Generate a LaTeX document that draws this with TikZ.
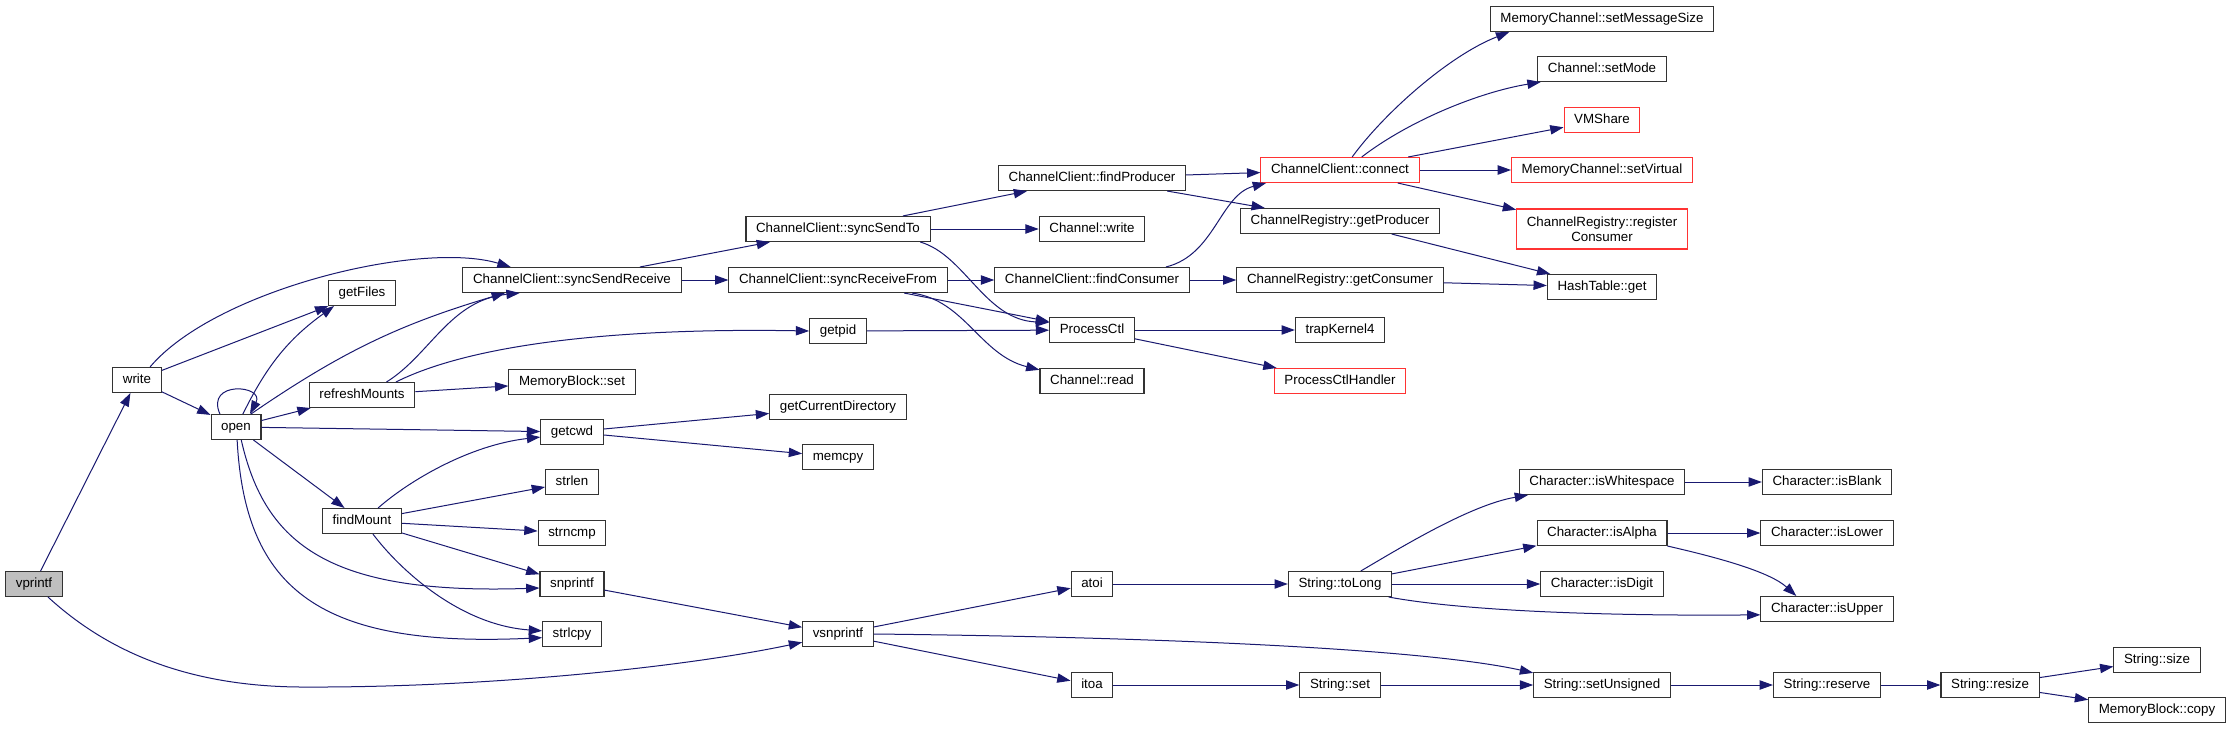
\documentclass[tikz,border=0pt]{standalone}
\usepackage{fontspec}
\setmainfont{Liberation Sans}
\usetikzlibrary{positioning, arrows.meta}
\definecolor{midnight}{HTML}{191970}
\definecolor{cutred}{HTML}{FF3333}

\begin{document}
\begin{tikzpicture}[x=0.75pt, y=-0.75pt,
    box/.style={draw=black!80, fill=white, line width=0.8pt, font=\fontsize{10}{11}\selectfont, inner xsep=7.6pt, inner ysep=2.5pt},
    fn/.style={box, inner ysep=0pt, minimum height=18.75pt, text height=7.3pt, text depth=2.1pt},
    truncated/.style={fn, draw=cutred},
    caller/.style={fn, fill=black!25},
    call/.style={midnight, line width=0.75pt, -{Triangle[length=10pt, width=7pt]}}]
    \path[use as bounding box, fill=white] (0,0) rectangle (2232,729);

    \node[caller] (vprintf) at (34,584) {vprintf};
    \node[fn] (write) at (137,380) {write};
    \node[fn] (open) at (236,427) {open};
    \node[fn] (getFiles) at (362,293) {getFiles};
    \node[fn] (refreshMounts) at (362,395) {refreshMounts};
    \node[fn] (findMount) at (362,521) {findMount};
    \node[fn] (syncSendReceive) at (572,280) {ChannelClient::syncSendReceive};
    \node[fn] (blockSet) at (572,382) {MemoryBlock::set};
    \node[fn] (getcwd) at (572,432) {getcwd};
    \node[fn] (strlen) at (572,482) {strlen};
    \node[fn] (strncmp) at (572,533) {strncmp};
    \node[fn] (snprintf) at (572,584) {snprintf};
    \node[fn] (strlcpy) at (572,634) {strlcpy};
    \node[fn] (syncSendTo) at (838,229) {ChannelClient::syncSendTo};
    \node[fn] (syncReceiveFrom) at (838,280) {ChannelClient::syncReceiveFrom};
    \node[fn] (getpid) at (838,331) {getpid};
    \node[fn] (getCurrentDirectory) at (838,407) {getCurrentDirectory};
    \node[fn] (memcpy) at (838,457) {memcpy};
    \node[fn] (vsnprintf) at (838,634) {vsnprintf};
    \node[fn] (findProducer) at (1092,178) {ChannelClient::findProducer};
    \node[fn] (channelWrite) at (1092,229) {Channel::write};
    \node[fn] (findConsumer) at (1092,280) {ChannelClient::findConsumer};
    \node[fn] (ProcessCtl) at (1092,330) {ProcessCtl};
    \node[fn] (channelRead) at (1092,381) {Channel::read};
    \node[fn] (atoi) at (1092,584) {atoi};
    \node[fn] (itoa) at (1092,685) {itoa};
    \node[truncated] (connect) at (1340,170) {ChannelClient::connect};
    \node[fn] (getProducer) at (1340,221) {ChannelRegistry::getProducer};
    \node[fn] (getConsumer) at (1340,280) {ChannelRegistry::getConsumer};
    \node[fn] (trapKernel4) at (1340,330) {trapKernel4};
    \node[truncated] (ProcessCtlHandler) at (1340,381) {ProcessCtlHandler};
    \node[fn] (toLong) at (1340,584) {String::toLong};
    \node[fn] (stringSet) at (1340,685) {String::set};
    \node[fn] (setMessageSize) at (1602,19) {MemoryChannel::setMessageSize};
    \node[fn] (setMode) at (1602,69) {Channel::setMode};
    \node[truncated] (VMShare) at (1602,120) {VMShare};
    \node[truncated] (setVirtual) at (1602,170) {MemoryChannel::setVirtual};
    \node[box, draw=cutred, align=center, minimum height=30pt] (registerConsumer) at (1602,229) {ChannelRegistry::register\\Consumer};
    \node[fn] (hashGet) at (1602,287) {HashTable::get};
    \node[fn] (isWhitespace) at (1602,482) {Character::isWhitespace};
    \node[fn] (isAlpha) at (1602,533) {Character::isAlpha};
    \node[fn] (isDigit) at (1602,584) {Character::isDigit};
    \node[fn] (setUnsigned) at (1602,685) {String::setUnsigned};
    \node[fn] (isBlank) at (1827,482) {Character::isBlank};
    \node[fn] (isLower) at (1827,533) {Character::isLower};
    \node[fn] (isUpper) at (1827,609) {Character::isUpper};
    \node[fn] (reserve) at (1827,685) {String::reserve};
    \node[fn] (resize) at (1990,685) {String::resize};
    \node[fn] (stringSize) at (2157,660) {String::size};
    \node[fn] (blockCopy) at (2157,710) {MemoryBlock::copy};

    \draw[call] (vprintf) -- (write);
    \draw[call] (vprintf.-43) .. controls (95,640) and (170,686) .. (300,687) .. controls (480,688) and (680,668) .. (vsnprintf.193);
    \draw[call] (write) -- (getFiles);
    \draw[call] (write) -- (open);
    \draw[call] (write.45) .. controls (215,290) and (420,240) .. (syncSendReceive.168);
    \draw[call] (open.141) .. controls (205,380) and (265,385) .. (open.43);
    \draw[call] (open.62) to[bend left=14] (getFiles.205);
    \draw[call] (open.41) to[bend left=9] (syncSendReceive.191);
    \draw[call] (open) -- (refreshMounts);
    \draw[call] (open) -- (getcwd);
    \draw[call] (open) -- (findMount);
    \draw[call] (open.-68) .. controls (265,545) and (330,595) .. (snprintf.187);
    \draw[call] (open.-85) .. controls (245,590) and (320,648) .. (strlcpy.187);
    \draw[call] (refreshMounts.28) .. controls (430,355) and (450,300) .. (syncSendReceive.194);
    \draw[call] (refreshMounts.21) .. controls (480,340) and (640,328) .. (getpid.west);
    \draw[call] (refreshMounts) -- (blockSet);
    \draw[call] (findMount.39) .. controls (410,480) and (470,445) .. (getcwd.189);
    \draw[call] (findMount) -- (strlen);
    \draw[call] (findMount) -- (strncmp);
    \draw[call] (findMount) -- (snprintf);
    \draw[call] (findMount.-50) .. controls (400,570) and (460,625) .. (strlcpy.174);
    \draw[call] (getcwd) -- (getCurrentDirectory);
    \draw[call] (getcwd) -- (memcpy);
    \draw[call] (snprintf) -- (vsnprintf);
    \draw[call] (syncSendReceive) -- (syncSendTo);
    \draw[call] (syncSendReceive) -- (syncReceiveFrom);
    \draw[call] (syncSendTo) -- (findProducer);
    \draw[call] (syncSendTo) -- (channelWrite);
    \draw[call] (syncSendTo.-9) .. controls (965,255) and (985,320) .. (ProcessCtl.170);
    \draw[call] (syncReceiveFrom) -- (findConsumer);
    \draw[call] (syncReceiveFrom) -- (ProcessCtl);
    \draw[call] (syncReceiveFrom.-10) .. controls (965,300) and (980,355) .. (channelRead.168);
    \draw[call] (getpid) -- (ProcessCtl);
    \draw[call] (findProducer) -- (connect);
    \draw[call] (findProducer) -- (getProducer);
    \draw[call] (findConsumer.10) .. controls (1215,255) and (1220,195) .. (connect.190);
    \draw[call] (findConsumer) -- (getConsumer);
    \draw[call] (connect.47) .. controls (1385,112) and (1450,55) .. (setMessageSize.188);
    \draw[call] (connect.31) .. controls (1410,120) and (1480,92) .. (setMode.192);
    \draw[call] (connect) -- (VMShare);
    \draw[call] (connect) -- (setVirtual);
    \draw[call] (connect) -- (registerConsumer);
    \draw[call] (getProducer) -- (hashGet);
    \draw[call] (getConsumer) -- (hashGet);
    \draw[call] (ProcessCtl) -- (trapKernel4);
    \draw[call] (ProcessCtl) -- (ProcessCtlHandler);
    \draw[call] (vsnprintf) -- (atoi);
    \draw[call] (vsnprintf.east) .. controls (1150,637) and (1420,648) .. (setUnsigned.170);
    \draw[call] (vsnprintf) -- (itoa);
    \draw[call] (atoi) -- (toLong);
    \draw[call] (toLong.32) .. controls (1400,548) and (1470,505) .. (isWhitespace.190);
    \draw[call] (toLong) -- (isAlpha);
    \draw[call] (toLong) -- (isDigit);
    \draw[call] (toLong.-15) .. controls (1470,612) and (1620,616) .. (isUpper.185);
    \draw[call] (isWhitespace) -- (isBlank);
    \draw[call] (isAlpha) -- (isLower);
    \draw[call] (isAlpha.south east) .. controls (1720,558) and (1770,572) .. (isUpper.157);
    \draw[call] (itoa) -- (stringSet);
    \draw[call] (stringSet) -- (setUnsigned);
    \draw[call] (setUnsigned) -- (reserve);
    \draw[call] (reserve) -- (resize);
    \draw[call] (resize) -- (stringSize);
    \draw[call] (resize) -- (blockCopy);
\end{tikzpicture}
\end{document}
